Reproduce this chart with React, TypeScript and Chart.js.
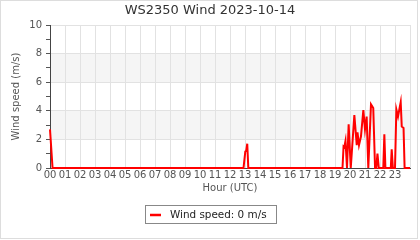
import React, { useEffect, useRef } from "react";
import { Chart, registerables } from "chart.js";

Chart.register(...registerables);

const chartTitle = "WS2350 Wind 2023-10-14";
const xTitle = "Hour (UTC)";
const yTitle = "Wind speed (m/s)";
const legendLabel = "Wind speed: 0 m/s";

const hours: number[] = [
  0, 0.17, 12.9, 13.02, 13.08, 13.15, 13.22, 19.5, 19.57, 19.62, 19.7, 19.8,
  19.91, 20.05, 20.29, 20.45, 20.5, 20.6, 20.73, 20.89, 21.0, 21.11, 21.22,
  21.4, 21.55, 21.67, 21.75, 21.83, 21.92, 22.22, 22.29, 22.36, 22.72, 22.78,
  22.86, 23.0, 23.09, 23.2, 23.38, 23.45, 23.57, 23.64, 24,
];
const speeds: number[] = [
  2.7, 0, 0, 1.15, 1.2, 1.7, 0, 0, 1.5, 1.45, 1.9, 0,
  3.05, 0, 3.7, 1.6, 2.5, 1.6, 2.2, 4.05, 2.7, 3.6, 0,
  4.45, 4.2, 0, 0, 1.0, 0, 0, 2.35, 0, 0, 1.3,
  0, 0, 4.1, 3.6, 4.6, 2.9, 2.8, 0, 0,
];
const xTickLabels: string[] = Array.from({ length: 24 }, (_, i) =>
  String(i).padStart(2, "0")
);
const bandRanges: [number, number][] = [
  [2, 4],
  [6, 8],
];

const FONT = "'DejaVu Sans', sans-serif";

const decorPlugin = {
  id: "decor",
  beforeDraw(chart: any) {
    const { ctx, chartArea, scales } = chart;
    ctx.save();
    ctx.fillStyle = "#ffffff";
    ctx.fillRect(0, 0, chart.width, chart.height);
    ctx.fillStyle = "#f5f5f5";
    for (const [a, b] of bandRanges) {
      const y1 = scales.y.getPixelForValue(b);
      const y2 = scales.y.getPixelForValue(a);
      ctx.fillRect(chartArea.left, y1, chartArea.right - chartArea.left, y2 - y1);
    }
    ctx.restore();
  },
  afterDraw(chart: any) {
    const { ctx } = chart;
    ctx.save();
    // outer border
    ctx.strokeStyle = "#dddddd";
    ctx.lineWidth = 1;
    ctx.strokeRect(0.5, 0.5, 417, 238);
    // title
    ctx.fillStyle = "#333333";
    ctx.font = `13px ${FONT}`;
    ctx.textAlign = "center";
    ctx.textBaseline = "middle";
    ctx.fillText(chartTitle, 210, 11);
    // legend box
    ctx.strokeStyle = "#888888";
    ctx.strokeRect(145.5, 205.5, 131, 18);
    ctx.strokeStyle = "#ff0000";
    ctx.lineWidth = 2.5;
    ctx.beginPath();
    ctx.moveTo(150, 215);
    ctx.lineTo(161, 215);
    ctx.stroke();
    ctx.fillStyle = "#222222";
    ctx.font = `10.4px ${FONT}`;
    ctx.textAlign = "left";
    ctx.fillText(legendLabel, 170, 215);
    ctx.restore();
  },
};

export default function App() {
  const ref = useRef<HTMLCanvasElement | null>(null);
  useEffect(() => {
    if (!ref.current) return;
    const chart = new Chart(ref.current, {
      type: "line",
      data: {
        datasets: [
          {
            label: "Wind speed",
            data: hours.map((h, i) => ({ x: h, y: speeds[i] })),
            borderColor: "#ff0000",
            backgroundColor: "#ff0000",
            borderWidth: 2,
            pointRadius: 0,
            tension: 0,
            fill: false,
            clip: 3,
          },
        ],
      },
      options: {
        responsive: false,
        animation: false,
        events: [],
        layout: { padding: { top: 25, left: 0, right: 10, bottom: 45 } },
        plugins: {
          legend: { display: false },
          title: { display: false },
          tooltip: { enabled: false },
        },
        scales: {
          x: {
            type: "linear",
            min: 0,
            max: 24,
            afterFit: (s: any) => {
              s.height = 27;
            },
            ticks: {
              stepSize: 1,
              autoSkip: false,
              maxRotation: 0,
              minRotation: 0,
              padding: 2,
              color: "#555555",
              font: { family: FONT, size: 10, lineHeight: 1 },
              callback: (v: any) => (v < 24 ? xTickLabels[v] : ""),
            },
            grid: { color: "#e2e2e2", drawTicks: false, lineWidth: 1 },
            border: { color: "#444444", width: 1 },
            title: {
              display: true,
              text: xTitle,
              color: "#555555",
              font: { family: FONT, size: 10 },
              padding: { top: 0, bottom: 1 },
            },
          },
          y: {
            min: 0,
            max: 10,
            afterFit: (s: any) => {
              s.width = 50;
            },
            ticks: {
              stepSize: 1,
              autoSkip: false,
              padding: 4,
              color: "#555555",
              font: { family: FONT, size: 10 },
              callback: (v: any) => (v % 2 === 0 ? String(v) : ""),
            },
            grid: {
              color: (c: any) => (c.tick && c.tick.value % 2 !== 0 ? "rgba(0,0,0,0)" : "#e2e2e2"),
              tickColor: "#555555",
              tickLength: 4,
              lineWidth: 1,
            },
            border: { color: "#444444", width: 1 },
            title: {
              display: true,
              text: yTitle,
              color: "#555555",
              font: { family: FONT, size: 10 },
              padding: { top: 10, bottom: 0 },
            },
          },
        },
      },
      plugins: [decorPlugin],
    });
    return () => chart.destroy();
  }, []);
  return (
    <div style={{ position: "fixed", left: 0, top: 0, width: 420, height: 240, background: "#fff" }}>
      <canvas ref={ref} width={420} height={240} style={{ display: "block" }} />
    </div>
  );
}
